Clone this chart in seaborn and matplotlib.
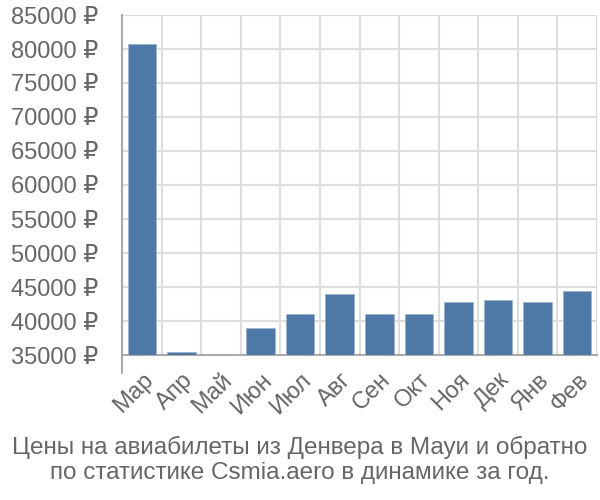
import matplotlib
matplotlib.use("Agg")
import matplotlib.pyplot as plt
import matplotlib.transforms as mtransforms
import numpy as np
import pandas as pd
import seaborn as sns

months = ["Мар", "Апр", "Май", "Июн", "Июл", "Авг", "Сен", "Окт", "Ноя", "Дек", "Янв", "Фев"]
prices = [80800, 35400, 35000, 39000, 41050, 43900, 41000, 41050, 42750, 43100, 42850, 44400]
yticks = list(range(35000, 85001, 5000))
ytick_labels = [f"{v} ₽" for v in yticks]
title_lines = ["Цены на авиабилеты из Денвера в Мауи и обратно",
               "по статистике Csmia.aero в динамике за год."]

sns.set_theme(style="white")
plt.rcParams["font.family"] = ["Liberation Sans", "DejaVu Sans"]

grid_c = "#dddddd"
spine_c = "#aaaaaa"
text_c = "#666666"
bar_c = "#4e79a7"

df = pd.DataFrame({"month": months, "price": prices})

fig = plt.figure(figsize=(6, 5), dpi=100)
ax = fig.add_axes([122 / 600, 1 - 355 / 500, (597 - 122) / 600, (355 - 15) / 500])

sns.barplot(data=df, x="month", y="price", color=bar_c, width=0.72,
            edgecolor="#9db5d1", linewidth=0.6, saturation=1, ax=ax, zorder=3)

ax.set_ylim(35000, 85000)
ax.set_xlim(-0.5, len(months) - 0.5)
ax.set_yticks(yticks)
ax.set_yticklabels(ytick_labels)
ax.set_xlabel("")
ax.set_ylabel("")

ax.set_xticks(np.arange(len(months)))
ax.set_xticklabels(months, rotation=45, ha="right", rotation_mode="anchor")
ax.set_xticks(np.arange(-0.5, len(months), 1.0), minor=True)

ax.tick_params(axis="x", which="major", length=0, pad=10, labelsize=17, labelcolor=text_c)
ax.tick_params(axis="x", which="minor", length=13, width=1.5, color=grid_c)
ax.tick_params(axis="y", which="major", length=14, width=1.5, color=grid_c, pad=3,
               labelsize=17, labelcolor=text_c)

ax.grid(axis="y", which="major", color=grid_c, linewidth=1.5, zorder=0)
ax.grid(axis="x", which="minor", color=grid_c, linewidth=1.5, zorder=0)
ax.set_axisbelow(True)

for s in ["top", "right"]:
    ax.spines[s].set_visible(False)
ax.spines["left"].set_color(spine_c)
ax.spines["left"].set_linewidth(1.5)
ax.spines["bottom"].set_color(spine_c)
ax.spines["bottom"].set_linewidth(1.5)

trans = mtransforms.blended_transform_factory(ax.transData, ax.transAxes)
ax.plot([-0.5, -0.5], [0, -0.053], transform=trans, color=spine_c, lw=1.5,
        clip_on=False, zorder=5)

fig.text(0.5, 1 - 447 / 500, title_lines[0], ha="center", va="center",
         fontsize=17.5, color=text_c)
fig.text(0.5, 1 - 473 / 500, title_lines[1], ha="center", va="center",
         fontsize=17.5, color=text_c)

fig.savefig("out.png", dpi=100)
